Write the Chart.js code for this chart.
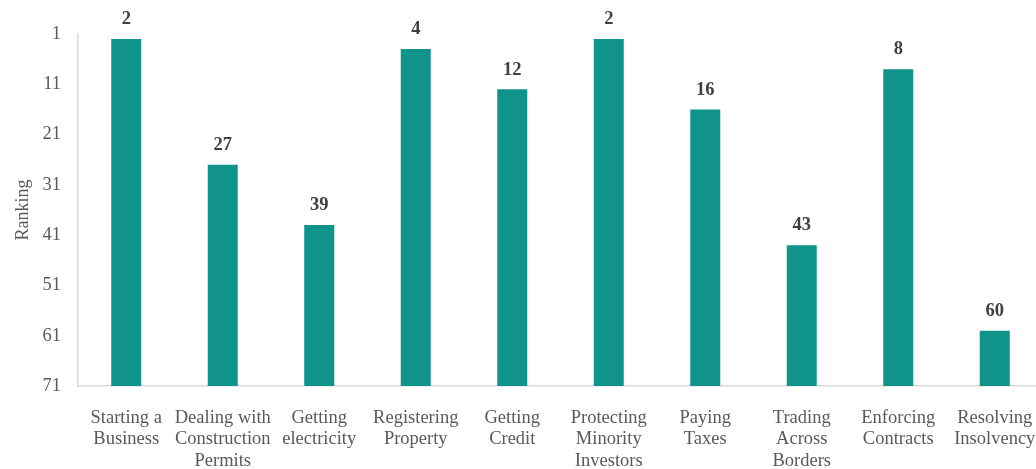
<!DOCTYPE html>
<html>
<head>
<meta charset="utf-8">
<script src="https://cdn.jsdelivr.net/npm/chart.js@4/dist/chart.umd.min.js"></script>
<style>
    html, body { margin: 0; padding: 0; background: #fff; overflow: hidden; }
    #rankChart { display: block; }
</style>
</head>
<body>
<canvas id="rankChart" width="1050" height="469"></canvas>
<script>
const categories = [
    ['Starting a', 'Business'],
    ['Dealing with', 'Construction', 'Permits'],
    ['Getting', 'electricity'],
    ['Registering', 'Property'],
    ['Getting', 'Credit'],
    ['Protecting', 'Minority', 'Investors'],
    ['Paying', 'Taxes'],
    ['Trading', 'Across', 'Borders'],
    ['Enforcing', 'Contracts'],
    ['Resolving', 'Insolvency']
];
const rankings = [2, 27, 39, 4, 12, 2, 16, 43, 8, 60];
const yTicks = [1, 11, 21, 31, 41, 51, 61, 71];

const serif = "'Liberation Serif', 'Times New Roman', serif";
const teal = '#0F938B';
const lineGray = '#D9D9D9';
const textGray = '#595959';

// rank numbers printed above each bar
const barLabels = {
    id: 'barLabels',
    afterDatasetsDraw(chart) {
        const ctx = chart.ctx;
        const yScale = chart.scales.y;
        const meta = chart.getDatasetMeta(0);
        ctx.save();
        ctx.font = 'bold 18.5px ' + serif;
        ctx.fillStyle = '#404040';
        ctx.textAlign = 'center';
        ctx.textBaseline = 'middle';
        meta.data.forEach((bar, i) => {
            const top = yScale.getPixelForValue(rankings[i]);
            ctx.fillText(String(rankings[i]), bar.x, top - 19.5);
        });
        ctx.restore();
    }
};

const ctx = document.getElementById('rankChart').getContext('2d');
new Chart(ctx, {
    type: 'bar',
    data: {
        labels: categories,
        datasets: [{
            // bars hang from the bottom rank up to each country's rank
            data: rankings.map(r => [yTicks[yTicks.length - 1], r]),
            backgroundColor: teal,
            borderWidth: 0,
            barPercentage: 0.311,
            categoryPercentage: 1
        }]
    },
    options: {
        responsive: false,
        animation: false,
        layout: { padding: { top: 34, right: 7, left: 0, bottom: 0 } },
        plugins: {
            legend: { display: false },
            tooltip: { enabled: false }
        },
        scales: {
            x: {
                grid: { display: false, drawTicks: false },
                border: { color: lineGray, width: 1.5 },
                ticks: {
                    color: textGray,
                    font: { family: serif, size: 18.5, lineHeight: 1.14 },
                    padding: 22,
                    maxRotation: 0,
                    autoSkip: false
                },
                afterFit(scale) {
                    scale.height = 83;
                    // labels may run past the edge, like the last one
                    scale.paddingLeft = 0;
                    scale.paddingRight = 0;
                }
            },
            y: {
                reverse: true,
                min: yTicks[0],
                max: yTicks[yTicks.length - 1],
                grid: { display: false, drawTicks: false },
                border: { color: lineGray, width: 1.5 },
                afterBuildTicks(scale) {
                    scale.ticks = yTicks.map(v => ({ value: v }));
                },
                ticks: {
                    color: textGray,
                    font: { family: serif, size: 18.5 },
                    padding: 17
                },
                title: {
                    display: true,
                    text: 'Ranking',
                    color: textGray,
                    font: { family: serif, size: 18 },
                    padding: { top: 12, bottom: 0 }
                },
                afterFit(scale) { scale.width = 78; }
            }
        }
    },
    plugins: [barLabels]
});
</script>
</body>
</html>
